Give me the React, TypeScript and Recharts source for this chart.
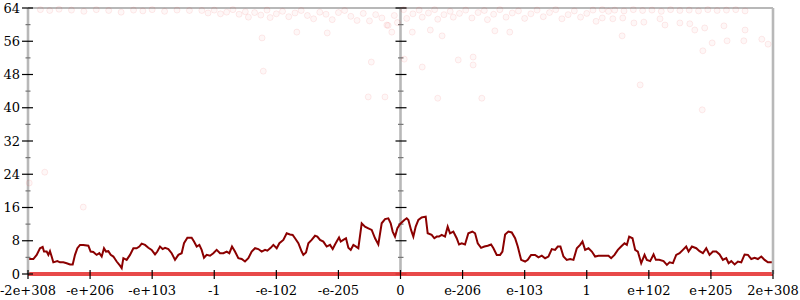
import React from "react";
import { ComposedChart, Line, Scatter, XAxis, YAxis, ReferenceLine } from "recharts";

const xTickValues = [0, 1, 2, 3, 4, 5, 6, 7, 8, 9, 10, 11, 12];
const xTickLabels = ["-2e+308", "-e+206", "-e+103", "-1", "-e-102", "-e-205", "0", "e-206", "e-103", "1", "e+102", "e+205", "2e+308"];
const yTickValues = [0, 4, 8, 12, 16, 20, 24, 28, 32, 36, 40, 44, 48, 52, 56, 60, 64];
const yMax = 64;

// moving average (dark red line)
const avgX = [
  0.0, 0.086, 0.14, 0.193, 0.236, 0.258, 0.301, 0.328, 0.354, 0.381, 0.408, 0.473, 0.515, 0.569, 0.623, 0.677, 0.72, 0.757, 0.795, 0.838,
  0.891, 0.972, 1.009, 1.052, 1.106, 1.149, 1.187, 1.224, 1.256, 1.294, 1.332, 1.375, 1.428, 1.482, 1.509, 1.536, 1.589, 1.643, 1.697, 1.75,
  1.793, 1.831, 1.885, 1.938, 1.992, 2.046, 2.083, 2.126, 2.169, 2.207, 2.261, 2.314, 2.368, 2.422, 2.475, 2.513, 2.567, 2.636, 2.674, 2.717,
  2.76, 2.797, 2.835, 2.878, 2.932, 2.985, 3.039, 3.093, 3.147, 3.2, 3.243, 3.286, 3.334, 3.388, 3.442, 3.495, 3.549, 3.603, 3.657, 3.71,
  3.764, 3.818, 3.855, 3.909, 3.952, 4.006, 4.049, 4.113, 4.167, 4.22, 4.263, 4.301, 4.355, 4.408, 4.435, 4.478, 4.516, 4.569, 4.623, 4.661,
  4.704, 4.757, 4.811, 4.865, 4.908, 4.945, 4.972, 5.01, 5.037, 5.079, 5.122, 5.16, 5.198, 5.241, 5.284, 5.321, 5.375, 5.428, 5.482, 5.536,
  5.59, 5.643, 5.697, 5.751, 5.804, 5.842, 5.874, 5.912, 5.95, 5.992, 6.019, 6.062, 6.1, 6.127, 6.17, 6.207, 6.245, 6.288, 6.341, 6.406,
  6.438, 6.502, 6.545, 6.583, 6.62, 6.663, 6.717, 6.76, 6.798, 6.851, 6.905, 6.943, 6.986, 7.039, 7.093, 7.158, 7.201, 7.244, 7.298, 7.351,
  7.405, 7.459, 7.497, 7.55, 7.604, 7.642, 7.685, 7.738, 7.792, 7.846, 7.889, 7.943, 8.007, 8.05, 8.104, 8.168, 8.222, 8.276, 8.329, 8.383,
  8.437, 8.49, 8.533, 8.576, 8.625, 8.678, 8.732, 8.786, 8.84, 8.893, 8.931, 8.974, 9.028, 9.082, 9.135, 9.189, 9.243, 9.296, 9.35, 9.393,
  9.447, 9.501, 9.554, 9.608, 9.646, 9.683, 9.737, 9.78, 9.823, 9.877, 9.931, 9.968, 10.022, 10.076, 10.113, 10.167, 10.237, 10.291, 10.334, 10.388,
  10.441, 10.495, 10.549, 10.602, 10.64, 10.694, 10.764, 10.817, 10.871, 10.925, 10.978, 11.032, 11.086, 11.14, 11.193, 11.247, 11.285, 11.328, 11.382, 11.435,
  11.489, 11.543, 11.596, 11.65, 11.704, 11.757, 11.811, 11.865, 11.918, 11.993,
];
const avgY = [
  3.6, 3.6, 4.6, 6.2, 6.5, 5.4, 5.4, 4.6, 5.5, 4.2, 2.8, 3.1, 2.8, 2.8, 2.6, 2.3, 2.3, 4.6, 6.2, 7.0,
  7.0, 6.8, 5.4, 5.3, 4.6, 5.0, 4.2, 6.2, 5.4, 5.5, 4.6, 4.2, 3.0, 2.0, 1.4, 3.8, 3.4, 4.6, 6.2, 6.2,
  6.6, 7.3, 7.0, 6.3, 5.8, 4.7, 5.4, 6.6, 6.0, 6.3, 6.0, 5.0, 3.4, 4.6, 5.0, 7.4, 8.7, 8.7, 7.8, 6.6,
  7.0, 5.8, 3.9, 4.6, 4.4, 5.0, 5.8, 5.0, 5.0, 5.4, 5.0, 6.6, 5.4, 3.8, 3.6, 3.0, 3.8, 5.4, 6.2, 6.0,
  5.4, 5.8, 5.6, 6.3, 7.0, 6.2, 7.4, 8.2, 9.8, 9.5, 9.4, 8.6, 7.4, 5.4, 4.6, 5.2, 7.4, 8.2, 9.2, 9.0,
  8.2, 7.8, 6.6, 7.0, 6.0, 7.1, 7.8, 8.8, 7.8, 8.2, 8.6, 6.3, 5.8, 7.0, 6.6, 6.2, 12.2, 11.4, 11.0, 10.6,
  8.6, 7.1, 12.2, 13.2, 13.4, 12.2, 10.2, 9.0, 11.0, 12.0, 12.4, 13.0, 13.4, 13.0, 10.6, 9.0, 11.4, 13.0, 13.6, 13.8,
  9.8, 9.4, 8.6, 9.0, 9.0, 9.4, 9.0, 11.4, 9.8, 10.2, 8.6, 7.1, 7.4, 7.1, 9.8, 10.2, 9.8, 7.4, 6.3, 6.6,
  6.8, 7.1, 6.2, 4.6, 4.6, 5.4, 9.5, 10.2, 10.0, 8.6, 6.6, 3.4, 3.0, 3.4, 4.6, 4.6, 4.0, 4.4, 3.8, 4.2,
  6.0, 5.8, 6.6, 6.6, 4.2, 3.4, 3.6, 3.4, 6.2, 7.0, 7.8, 5.8, 6.2, 5.4, 4.2, 4.4, 4.4, 4.4, 4.4, 3.8,
  4.6, 5.8, 6.6, 7.4, 7.0, 9.0, 8.6, 5.8, 5.4, 2.6, 4.6, 3.4, 3.1, 4.7, 3.4, 3.4, 3.1, 2.2, 2.8, 2.6,
  4.6, 5.0, 5.8, 6.6, 5.4, 6.6, 6.2, 5.5, 5.0, 6.2, 4.6, 5.4, 5.4, 4.7, 3.4, 3.8, 2.6, 3.1, 2.3, 3.0,
  2.8, 4.7, 4.6, 3.6, 3.9, 3.6, 4.2, 3.4, 2.8, 2.8,
];

// individual samples (faint circles)
const sampleX = [
  0.2, 0.35, 0.5, 0.7, 0.9, 1.1, 1.3, 1.5, 1.7, 1.85, 2.0, 2.2, 2.4, 2.6,
  2.8, 2.9, 3.0, 3.1, 3.2, 3.3, 3.4, 3.5, 3.55, 3.65, 3.75, 3.85, 3.9, 4.0, 4.1, 4.2, 4.3, 4.4, 4.5, 4.6, 4.7, 4.8, 4.9, 5.0, 5.1, 5.2, 5.3, 5.4, 5.5, 5.6, 5.7, 5.8, 5.9, 5.95,
  4.33, 4.82, 3.77, 3.79, 5.53, 5.48, 5.75, 5.78, 5.86,
  6.05, 6.1, 6.2, 6.3, 6.35, 6.45, 6.55, 6.6, 6.7, 6.8, 6.85, 6.95, 7.05, 7.15, 7.25, 7.35, 7.4, 7.5, 7.6, 7.7, 7.8, 7.9, 8.0, 8.1, 8.2, 8.3, 8.4, 8.5, 8.6, 8.7, 8.8, 8.9, 9.0, 9.1, 9.15,
  6.19, 6.67, 7.52, 7.76, 6.93, 7.17, 7.17, 6.35, 6.6, 7.31, 6.06, 6.48,
  9.25, 9.35, 9.45, 9.6, 9.75, 9.9, 10.05, 10.2, 10.35, 10.5, 10.65, 10.8, 10.95, 11.1, 11.25, 11.4, 11.55,
  9.25, 9.42, 9.58, 9.76, 9.92, 10.18, 10.26, 10.5, 10.66, 10.74, 10.9, 11.21, 11.55, 9.57, 10.87, 11.02, 11.26, 11.53, 11.82, 11.92, 9.86, 10.86,
  0.27, 0.02, 0.89,
];
const sampleY = [
  63.6, 63.4, 63.7, 63.5, 63.2, 63.6, 63.4, 63.0, 63.5, 63.3, 63.6, 63.2, 63.5, 63.4,
  63.4, 62.8, 63.5, 62.6, 63.0, 63.6, 62.5, 63.1, 61.8, 62.9, 62.3, 63.5, 61.7, 62.6, 63.2, 61.9, 62.8, 63.4, 62.2, 61.4, 63.0, 62.5, 61.2, 62.9, 63.4, 62.0, 61.0, 62.7, 60.9, 62.4, 61.6, 59.8, 62.2, 60.5,
  58.2, 58.0, 56.8, 48.8, 51.0, 42.6, 42.6, 59.9, 58.2,
  63.6, 61.5, 62.6, 63.5, 61.8, 62.8, 63.6, 61.3, 62.4, 63.2, 61.8, 62.7, 63.5, 61.6, 62.9, 63.4, 61.2, 62.5, 63.6, 61.8, 62.8, 63.3, 61.5, 62.6, 63.5, 61.9, 62.9, 63.6, 61.4, 62.4, 63.3, 61.8, 62.7, 63.5, 60.8,
  58.2, 57.3, 58.5, 58.2, 51.5, 52.2, 50.3, 49.8, 42.3, 42.3, 51.7, 58.7,
  63.6, 63.2, 63.5, 63.3, 63.6, 63.4, 63.5, 63.2, 63.6, 63.4, 63.5, 63.3, 63.6, 63.4, 63.5, 63.6, 63.3,
  61.6, 61.4, 61.6, 60.4, 60.6, 61.4, 59.9, 60.4, 60.2, 58.7, 59.2, 59.7, 58.7, 57.3, 53.7, 55.6, 56.1, 56.1, 56.5, 55.3, 45.5, 39.5,
  24.5, 21.9, 16.1,
];

// the many samples at zero form a solid band
const zeroX = [0, 12];
const zeroY = [0, 0];

const avgData = avgX.map((x, i) => ({ x, y: avgY[i] }));
const sampleData = sampleX.map((x, i) => ({ x, y: sampleY[i] }));
const zeroData = zeroX.map((x, i) => ({ x, y: zeroY[i] }));

const FONT = "'DejaVu Serif', serif";
const AXIS_GRAY = "#b8b8b8";

function XTick(props: any) {
  const { x, y, payload } = props;
  return (
    <g>
      <line x1={x} x2={x} y1={y - 4} y2={y + 5} stroke="#000" strokeWidth={1.2} />
      <text x={x} y={y + 21} textAnchor="middle" fontFamily={FONT} fontSize={13} fill="#000">
        {xTickLabels[Math.round(payload.value)]}
      </text>
    </g>
  );
}

function LeftTick(props: any) {
  const { x, y, payload } = props;
  const major = payload.value % 8 === 0;
  return (
    <g>
      <line x1={major ? x - 6 : x - 2.5} x2={major ? x + 5 : x + 2.5} y1={y} y2={y} stroke={major ? "#000" : "#777"} strokeWidth={1.2} />
      {major && (
        <text x={x - 8} y={y + 4.5} textAnchor="end" fontFamily={FONT} fontSize={13} fill="#000">
          {payload.value}
        </text>
      )}
    </g>
  );
}

function RightTick(props: any) {
  const { x, y, payload } = props;
  const major = payload.value % 8 === 0;
  return (
    <line x1={major ? x - 5 : x - 2.5} x2={major ? x + 6 : x + 3} y1={y} y2={y} stroke={major ? "#222" : "#777"} strokeWidth={1.2} />
  );
}

function MidAxis(props: any) {
  const { x1, y1, y2 } = props;
  const top = Math.min(y1, y2);
  const bottom = Math.max(y1, y2);
  return (
    <g>
      <line x1={x1} x2={x1} y1={top} y2={bottom} stroke={AXIS_GRAY} strokeWidth={2.6} />
      {yTickValues.map((v) => {
        const yy = bottom - ((bottom - top) * v) / yMax;
        const major = v % 8 === 0;
        return (
          <line key={v} x1={major ? x1 - 5 : x1 - 2.5} x2={major ? x1 + 6 : x1 + 3} y1={yy} y2={yy} stroke={major ? "#000" : "#777"} strokeWidth={1.2} />
        );
      })}
    </g>
  );
}

export default function App() {
  return (
    <div style={{ position: "absolute", left: 0, top: 0, background: "#fff" }}>
      <ComposedChart width={800} height={300} margin={{ top: 8, right: 0, bottom: 0, left: 0 }}>
        <XAxis
          type="number"
          dataKey="x"
          domain={[0, 12]}
          ticks={xTickValues}
          interval={0}
          height={26}
          tickSize={0}
          tickMargin={0}
          tickLine={false}
          axisLine={false}
          tick={<XTick />}
        />
        <YAxis
          yAxisId="left"
          orientation="left"
          type="number"
          domain={[0, yMax]}
          ticks={yTickValues}
          interval={0}
          width={28}
          tickSize={0}
          tickMargin={0}
          tickLine={false}
          axisLine={{ stroke: AXIS_GRAY, strokeWidth: 2.6 }}
          tick={<LeftTick />}
        />
        <YAxis
          yAxisId="right"
          orientation="right"
          type="number"
          domain={[0, yMax]}
          ticks={yTickValues}
          interval={0}
          width={27}
          tickSize={0}
          tickMargin={0}
          tickLine={false}
          axisLine={{ stroke: AXIS_GRAY, strokeWidth: 2.6 }}
          tick={<RightTick />}
        />
        <ReferenceLine yAxisId="left" y={yMax} stroke={AXIS_GRAY} strokeWidth={2} />
        <ReferenceLine yAxisId="left" x={6} shape={(p: any) => <MidAxis {...p} />} />
        <Scatter
          yAxisId="left"
          data={sampleData}
          dataKey="y"
          isAnimationActive={false}
          shape={(p: any) => (
            <circle cx={p.cx} cy={p.cy} r={3} fill="rgba(235,40,40,0.035)" stroke="rgba(235,40,40,0.09)" strokeWidth={1} />
          )}
        />
        <Line
          yAxisId="left"
          data={zeroData}
          dataKey="y"
          type="linear"
          stroke="#e53535"
          strokeWidth={4}
          strokeOpacity={0.9}
          dot={false}
          isAnimationActive={false}
        />
        <Line
          yAxisId="left"
          data={avgData}
          dataKey="y"
          type="linear"
          stroke="#8b0000"
          strokeWidth={2}
          dot={false}
          isAnimationActive={false}
        />
      </ComposedChart>
    </div>
  );
}
